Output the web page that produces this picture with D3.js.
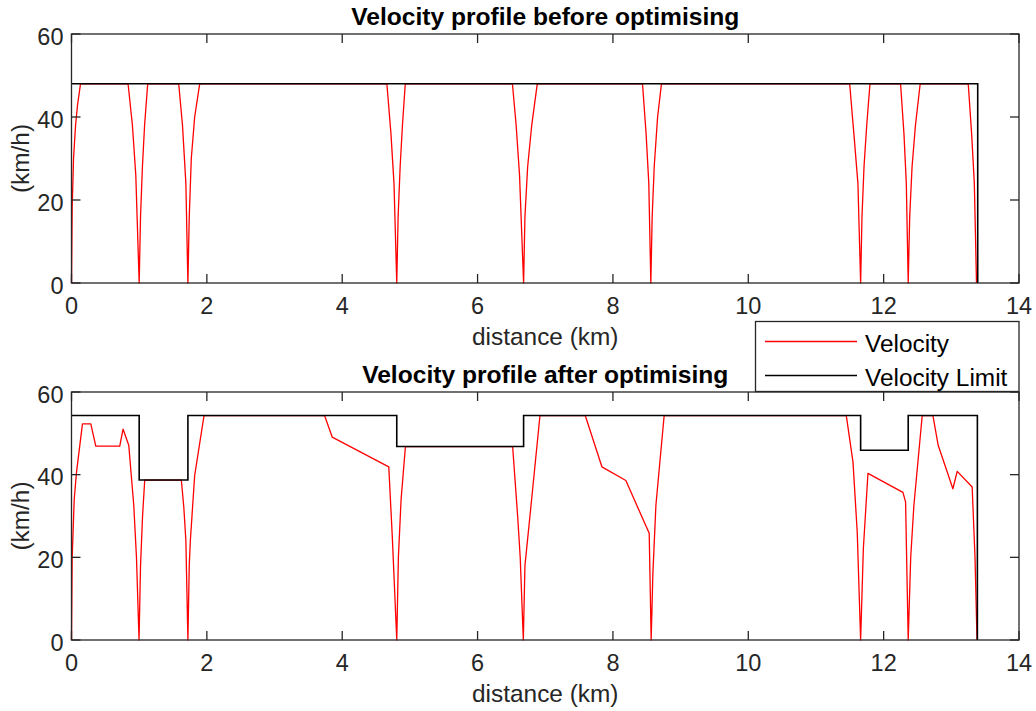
<!DOCTYPE html>
<html>
<head>
<meta charset="utf-8">
<script src="https://cdn.jsdelivr.net/npm/d3@7"></script>
<style>
  html, body { margin: 0; padding: 0; background: #fff; }
  svg { display: block; }
  text { font-family: "Liberation Sans", Arial, Helvetica, sans-serif; }
</style>
</head>
<body>
<svg id="chart" width="1036" height="711"></svg>
<script>
// ---------- data ----------
const titles = ["Velocity profile before optimising", "Velocity profile after optimising"];
const xLabel = "distance (km)";
const yLabel = "(km/h)";
const xTicks = [0, 2, 4, 6, 8, 10, 12, 14];
const yTicks = [0, 20, 40, 60];
const legendLabels = ["Velocity", "Velocity Limit"];

// velocity before optimising: [distance km, speed km/h]
const velocityBefore = [
  [0,0],[0.01,18],[0.03,30],[0.06,38],[0.09,43],[0.133,48],
  [0.836,48],[0.90,38],[0.95,26],[1.0,0],[1.02,16],[1.048,28],[1.08,38],[1.126,48],
  [1.584,48],[1.64,38],[1.69,24],[1.72,0],[1.74,16],[1.77,30],[1.82,40],[1.894,48],
  [4.66,48],[4.72,36],[4.765,24],[4.806,0],[4.826,16],[4.856,28],[4.89,38],[4.932,48],
  [6.515,48],[6.57,38],[6.62,26],[6.68,0],[6.70,16],[6.74,28],[6.80,38],[6.882,48],
  [8.437,48],[8.49,36],[8.53,24],[8.56,0],[8.58,16],[8.61,28],[8.66,40],[8.717,48],
  [11.498,48],[11.56,36],[11.62,24],[11.66,0],[11.68,16],[11.71,28],[11.75,38],[11.798,48],
  [12.25,48],[12.30,36],[12.335,24],[12.363,0],[12.385,16],[12.42,28],[12.47,38],[12.54,48],
  [13.25,48],[13.30,36],[13.34,24],[13.372,0]
];
const limitBefore = [[0,48],[13.39,48],[13.39,0]];

// velocity after optimising
const velocityAfter = [
  [0,0],[0.01,20],[0.04,34],[0.074,40.6],[0.162,52.3],[0.285,52.3],[0.359,46.9],[0.713,46.9],
  [0.762,51.0],[0.846,47.1],[0.92,32.6],[0.96,20],[0.998,0],[1.02,18],[1.05,30],[1.082,38.7],
  [1.623,38.7],[1.66,32],[1.69,24],[1.72,0],[1.74,18],[1.756,24],[1.82,39.8],[1.958,54.3],
  [3.739,54.3],[3.852,49.1],[4.688,41.9],[4.74,25],[4.806,0],[4.83,20],[4.87,34],[4.934,46.8],
  [6.518,46.8],[6.592,30],[6.63,20],[6.676,0],[6.70,18],[6.79,32.6],[6.922,54.3],
  [7.591,54.3],[7.837,41.9],[8.191,38.6],[8.536,25.8],[8.565,0],[8.59,16],[8.635,32.6],[8.757,54.3],
  [11.448,54.3],[11.547,43.1],[11.61,26],[11.66,0],[11.70,22],[11.768,40.3],[12.285,35.7],[12.324,33.4],
  [12.363,0],[12.40,20],[12.447,32.6],[12.57,54.3],[12.728,54.3],[12.806,47.1],[13.023,36.6],
  [13.087,40.8],[13.308,37.0],[13.35,20],[13.38,0]
];
const limitAfter = [
  [0,54.3],[1.0,54.3],[1.0,38.7],[1.72,38.7],[1.72,54.3],[4.806,54.3],[4.806,46.8],
  [6.68,46.8],[6.68,54.3],[11.66,54.3],[11.66,45.9],[12.363,45.9],[12.363,54.3],
  [13.385,54.3],[13.385,0]
];

// ---------- layout ----------
const svg = d3.select("#chart");
const axColor = "#262626";
const left = 71.5, right = 1019;
const panels = [
  { top: 34, bottom: 283, title: titles[0], vel: velocityBefore, lim: limitBefore },
  { top: 392, bottom: 640, title: titles[1], vel: velocityAfter, lim: limitAfter }
];

const x = d3.scaleLinear().domain([0, 14]).range([left, right]);

panels.forEach(p => {
  const y = d3.scaleLinear().domain([0, 60]).range([p.bottom, p.top]);
  const g = svg.append("g");
  const line = d3.line().x(d => x(d[0])).y(d => y(d[1]));

  g.append("path").datum(p.vel).attr("d", line)
    .attr("fill", "none").attr("stroke", "#ff0000").attr("stroke-width", 1.3)
    .attr("stroke-linejoin", "round");
  g.append("path").datum(p.lim).attr("d", line)
    .attr("fill", "none").attr("stroke", "#000").attr("stroke-width", 1.6);

  // box
  g.append("rect").attr("x", left).attr("y", p.top)
    .attr("width", right - left).attr("height", p.bottom - p.top)
    .attr("fill", "none").attr("stroke", axColor).attr("stroke-width", 1.3);

  const tl = 9;
  // x ticks (bottom & top)
  xTicks.forEach(t => {
    g.append("line").attr("x1", x(t)).attr("x2", x(t)).attr("y1", p.bottom).attr("y2", p.bottom - tl)
      .attr("stroke", axColor).attr("stroke-width", 1.3);
    g.append("line").attr("x1", x(t)).attr("x2", x(t)).attr("y1", p.top).attr("y2", p.top + tl)
      .attr("stroke", axColor).attr("stroke-width", 1.3);
    g.append("text").attr("x", x(t)).attr("y", p.bottom + 31).attr("text-anchor", "middle")
      .attr("font-size", 23.5).attr("fill", axColor).text(t);
  });
  // y ticks (left & right)
  yTicks.forEach(t => {
    g.append("line").attr("x1", left).attr("x2", left + tl).attr("y1", y(t)).attr("y2", y(t))
      .attr("stroke", axColor).attr("stroke-width", 1.3);
    g.append("line").attr("x1", right).attr("x2", right - tl).attr("y1", y(t)).attr("y2", y(t))
      .attr("stroke", axColor).attr("stroke-width", 1.3);
    g.append("text").attr("x", left - 8).attr("y", y(t) + 10.5).attr("text-anchor", "end")
      .attr("font-size", 23.5).attr("fill", axColor).text(t);
  });

  // title
  g.append("text").attr("x", (left + right) / 2).attr("y", p.top - 9.5)
    .attr("text-anchor", "middle").attr("font-size", 24.6).attr("font-weight", "bold")
    .attr("fill", "#000").text(p.title);
  // x label
  g.append("text").attr("x", (left + right) / 2).attr("y", p.bottom + 62)
    .attr("text-anchor", "middle").attr("font-size", 24.4).attr("fill", axColor).text(xLabel);
  // y label
  const cy = (p.top + p.bottom) / 2;
  g.append("text").attr("transform", `translate(28.5,${cy}) rotate(-90)`)
    .attr("text-anchor", "middle").attr("font-size", 24.4).attr("fill", axColor).text(yLabel);
});

// legend
const lg = svg.append("g");
lg.append("rect").attr("x", 755.5).attr("y", 321.5).attr("width", 263.5).attr("height", 70)
  .attr("fill", "#fff").attr("stroke", axColor).attr("stroke-width", 1.3);
const legendColors = ["#ff0000", "#000"];
const legendY = [341.5, 375.5];
legendLabels.forEach((lab, i) => {
  lg.append("line").attr("x1", 765).attr("x2", 857).attr("y1", legendY[i]).attr("y2", legendY[i])
    .attr("stroke", legendColors[i]).attr("stroke-width", i === 0 ? 1.3 : 1.6);
  lg.append("text").attr("x", 865).attr("y", legendY[i] + 10.5)
    .attr("font-size", 24.4).attr("fill", "#000").text(lab);
});
</script>
</body>
</html>
